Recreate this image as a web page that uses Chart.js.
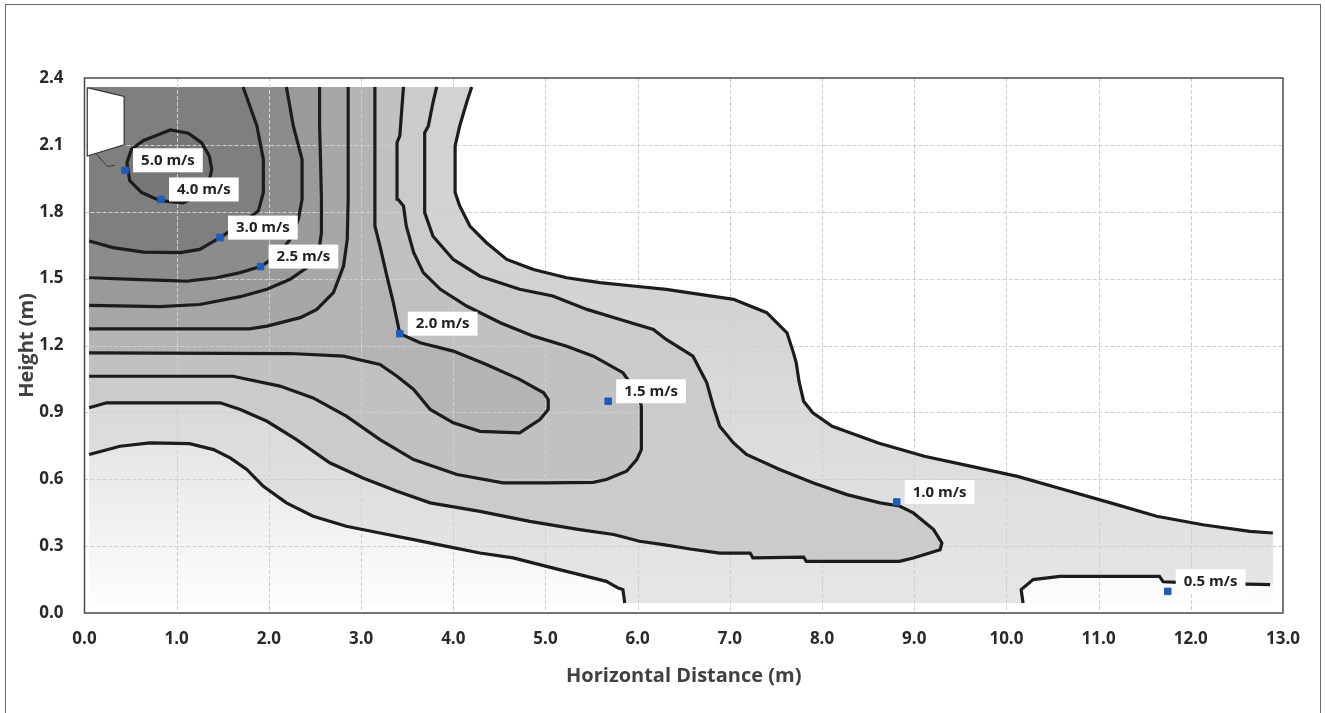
<!DOCTYPE html>
<html>
<head>
<meta charset="utf-8">
<title>Velocity contours</title>
<script src="https://cdn.jsdelivr.net/npm/chart.js@4.4.0/dist/chart.umd.min.js"></script>
<style>
  html, body { margin: 0; padding: 0; background: #fff; }
  canvas { display: block; }
</style>
</head>
<body>
<canvas id="chart" width="1325" height="713"></canvas>
<script>
// ticks
const xTicks = [0, 1, 2, 3, 4, 5, 6, 7, 8, 9, 10, 11, 12, 13];
const yTicks = [0, 0.3, 0.6, 0.9, 1.2, 1.5, 1.8, 2.1, 2.4];

// labelled probe points
const probeText = ['5.0 m/s', '4.0 m/s', '3.0 m/s', '2.5 m/s', '2.0 m/s', '1.5 m/s', '1.0 m/s', '0.5 m/s'];
const probeX = [0.44, 0.83, 1.47, 1.91, 3.42, 5.68, 8.81, 11.75];
const probeY = [1.986, 1.855, 1.684, 1.554, 1.253, 0.95, 0.498, 0.097];

// contour lines, [x (m), height (m)]
const cCircle = [[0.765,2.14],[0.93,2.167],[1.126,2.152],[1.27,2.11],[1.354,2.05],[1.38,1.99],[1.343,1.92],
  [1.217,1.87],[1.07,1.84],[0.82,1.85],[0.62,1.886],[0.49,1.94],[0.46,2.02],[0.51,2.08],[0.64,2.12],[0.765,2.14]];
const cA = [[0.05,1.669],[0.31,1.639],[0.64,1.619],[1.04,1.617],[1.25,1.631],[1.47,1.684],[1.69,1.744],
  [1.885,1.803],[1.94,1.886],[1.94,2.035],[1.87,2.185],[1.78,2.29],[1.72,2.36]];
const cB = [[0.05,1.504],[0.53,1.497],[1.11,1.489],[1.43,1.504],[1.69,1.527],[1.91,1.554],[2.085,1.601],
  [2.23,1.676],[2.32,1.766],[2.36,1.856],[2.36,2.035],[2.265,2.185],[2.19,2.36]];
const cC = [[0.05,1.38],[0.82,1.374],[1.25,1.384],[1.69,1.419],[1.98,1.452],[2.23,1.497],[2.41,1.549],
  [2.54,1.617],[2.57,1.706],[2.57,1.856],[2.56,2.035],[2.55,2.185],[2.55,2.36]];
const cD = [[0.05,1.275],[1.79,1.275],[1.98,1.287],[2.34,1.325],[2.52,1.362],[2.70,1.437],[2.81,1.556],
  [2.85,1.676],[2.86,1.856],[2.86,2.36]];
const cE = [[0.05,1.167],[2.23,1.164],[2.81,1.152],[3.205,1.115],[3.39,1.062],[3.57,1.003],[3.75,0.913],
  [4.0,0.853],[4.29,0.815],[4.72,0.808],[4.94,0.868],[5.03,0.913],[5.03,0.958],[4.98,0.988],[4.72,1.048],
  [4.36,1.115],[4.0,1.175],[3.64,1.212],[3.42,1.253],[3.35,1.392],[3.28,1.511],[3.205,1.646],[3.15,1.736],
  [3.15,2.035],[3.15,2.36]];
const cF = [[0.05,1.062],[1.61,1.062],[2.12,1.018],[2.48,0.965],[2.84,0.883],[3.205,0.778],[3.57,0.688],
  [4.04,0.621],[4.54,0.584],[5.01,0.584],[5.52,0.586],[5.66,0.599],[5.88,0.636],[5.99,0.688],[6.04,0.733],
  [6.04,0.928],[6.01,0.98],[5.84,1.078],[5.52,1.152],[5.23,1.197],[4.87,1.242],[4.51,1.302],[4.145,1.377],
  [3.86,1.452],[3.675,1.527],[3.57,1.617],[3.49,1.736],[3.46,1.826],[3.40,1.856],[3.39,2.11],[3.42,2.14],[3.46,2.36]];
const cG = [[0.05,0.921],[0.24,0.943],[1.47,0.943],[1.69,0.913],[1.98,0.86],[2.30,0.778],[2.66,0.674],
  [3.02,0.606],[3.39,0.546],[3.75,0.494],[4.29,0.456],[4.83,0.411],[5.37,0.374],[5.74,0.352],[6.02,0.322],
  [6.28,0.307],[6.57,0.287],[6.89,0.269],[7.22,0.269],[7.25,0.247],[7.80,0.251],[7.83,0.232],[8.84,0.232],
  [8.99,0.247],[9.28,0.284],[9.30,0.314],[9.21,0.374],[8.99,0.449],[8.84,0.48],[8.63,0.494],[8.27,0.531],
  [7.90,0.584],[7.54,0.644],[7.18,0.711],[7.04,0.763],[6.89,0.838],[6.82,0.928],[6.75,1.033],[6.60,1.152],
  [6.31,1.227],[6.17,1.272],[5.81,1.317],[5.45,1.362],[5.08,1.422],[4.72,1.452],[4.29,1.511],[4.0,1.586],
  [3.78,1.69],[3.69,1.796],[3.69,2.155],[3.73,2.185],[3.78,2.29],[3.82,2.36]];
const cH = [[4.20,2.36],[4.145,2.29],[4.07,2.185],[4.02,2.095],[4.02,1.886],[4.07,1.826],[4.18,1.736],
  [4.36,1.661],[4.58,1.586],[4.87,1.541],[5.23,1.504],[5.59,1.482],[5.95,1.467],[6.31,1.452],[6.675,1.429],
  [7.04,1.407],[7.40,1.347],[7.62,1.257],[7.69,1.167],[7.72,1.123],[7.75,1.04],[7.80,0.95],[7.90,0.898],
  [8.11,0.838],[8.61,0.763],[9.11,0.703],[9.62,0.658],[10.12,0.613],[10.62,0.554],[11.13,0.494],
  [11.63,0.434],[12.13,0.396],[12.64,0.366],[12.89,0.359]];
const cLowLeft = [[0.05,0.711],[0.385,0.748],[0.71,0.763],[1.14,0.76],[1.40,0.733],[1.58,0.696],[1.76,0.644],
  [1.94,0.568],[2.19,0.494],[2.48,0.434],[2.84,0.389],[3.205,0.359],[3.57,0.329],[3.93,0.299],[4.29,0.269],
  [4.65,0.247],[5.01,0.209],[5.37,0.172],[5.66,0.142],[5.79,0.112],[5.84,0.105],[5.86,0.045]];
const cLowRight = [[10.18,0.045],[10.16,0.105],[10.29,0.15],[10.58,0.164],[11.66,0.164],[11.70,0.14],
  [12.0,0.135],[12.86,0.127]];

// inlet outline
const inlet = [[0.03,2.357],[0.43,2.317],[0.43,2.10],[0.03,2.05],[0.03,2.357]];
const inletTick = [[0.13,2.058],[0.25,2.003],[0.33,2.009]];

const toXY = arr => arr.map(p => ({ x: p[0], y: p[1] }));
const corner = [[0.05, 2.36]];

function band(points, color, order, extra) {
  return Object.assign({
    data: toXY(points),
    fill: 'shape',
    backgroundColor: color,
    borderWidth: 0,
    pointRadius: 0,
    tension: 0,
    order: order
  }, extra || {});
}

function contour(points) {
  return {
    data: toXY(points),
    fill: false,
    borderColor: '#1c1c1c',
    borderWidth: 3.2,
    pointRadius: 0,
    tension: 0,
    order: 10
  };
}

function vGradient(ctx, top, bottom, c1, c2) {
  const chart = ctx.chart;
  if (!chart.chartArea) return c1;
  const y = chart.scales.y;
  const g = chart.ctx.createLinearGradient(0, y.getPixelForValue(top), 0, y.getPixelForValue(bottom));
  g.addColorStop(0, c1);
  g.addColorStop(1, c2);
  return g;
}

const basePoly = [[0.05,0.045],[0.05,2.36]].concat(cH, [[12.89,0.045]]);
const outerPoly = corner.concat(cH, [[12.89,0.127]], cLowRight.slice().reverse(), cLowLeft.slice().reverse());

const datasets = [
  band(basePoly, c => vGradient(c, 0.8, 0.04, '#e4e4e4', '#fdfdfd'), 100),
  band(outerPoly, c => vGradient(c, 1.5, 0.04, '#d2d2d2', '#e6e6e6'), 99),
  band(cG.concat(corner), '#cbcbcb', 98),
  band(cF.concat(corner), '#c1c1c1', 97),
  band(cE.concat(corner), '#b4b4b4', 96),
  band(cD.concat(corner), '#a7a7a7', 95),
  band(cC.concat(corner), '#9a9a9a', 94),
  band(cB.concat(corner), '#8c8c8c', 93),
  band(cA.concat(corner), '#7f7f7f', 92),
  band(cCircle, '#777777', 91, { gridAfter: true }),
  contour(cCircle), contour(cA), contour(cB), contour(cC), contour(cD), contour(cE),
  contour(cF), contour(cG), contour(cH), contour(cLowLeft), contour(cLowRight),
  {
    data: toXY(inlet), fill: 'shape', backgroundColor: '#ffffff', borderColor: '#333333',
    borderWidth: 1.2, pointRadius: 0, tension: 0, order: 5
  },
  {
    data: toXY(inletTick), fill: false, borderColor: '#333333', borderWidth: 1,
    pointRadius: 0, tension: 0, order: 5
  },
  {
    data: probeX.map((v, i) => ({ x: v, y: probeY[i] })),
    showLine: false, pointStyle: 'rect', pointRadius: 4.6,
    pointBackgroundColor: '#1f5cb8', pointBorderColor: '#1f5cb8', pointBorderWidth: 1, order: 1
  }
];

const overlay = {
  id: 'overlay',
  beforeDraw(chart) {
    const ctx = chart.ctx;
    ctx.save();
    ctx.fillStyle = '#ffffff';
    ctx.fillRect(0, 0, chart.width, chart.height);
    ctx.strokeStyle = '#6a6a6a';
    ctx.lineWidth = 1;
    ctx.strokeRect(5.5, 4.5, 1315, 760);
    ctx.restore();
  },
  afterDatasetDraw(chart, args) {
    if (!chart.data.datasets[args.index].gridAfter) return;
    const { ctx, chartArea: a, scales: { x, y } } = chart;
    ctx.save();
    ctx.strokeStyle = '#cfcfcf';
    ctx.lineWidth = 1;
    ctx.setLineDash([4, 2]);
    xTicks.slice(1, -1).forEach(v => {
      const px = Math.round(x.getPixelForValue(v)) + 0.5;
      ctx.beginPath(); ctx.moveTo(px, a.top); ctx.lineTo(px, a.bottom); ctx.stroke();
    });
    yTicks.slice(1, -1).forEach(v => {
      const py = Math.round(y.getPixelForValue(v)) + 0.5;
      ctx.beginPath(); ctx.moveTo(a.left, py); ctx.lineTo(a.right, py); ctx.stroke();
    });
    ctx.restore();
  },
  afterDraw(chart) {
    const { ctx, chartArea: a, scales: { x, y } } = chart;
    ctx.save();
    ctx.strokeStyle = '#4a4a4a';
    ctx.lineWidth = 1.5;
    ctx.strokeRect(a.left, a.top, a.right - a.left, a.bottom - a.top);
    // probe labels
    ctx.font = 'bold 15px "Open Sans"';
    ctx.textBaseline = 'middle';
    probeText.forEach((t, i) => {
      const px = x.getPixelForValue(probeX[i]);
      const py = y.getPixelForValue(probeY[i]);
      const w = ctx.measureText(t).width + 16;
      const bx = px + 8, by = py - 10;
      ctx.fillStyle = '#ffffff';
      ctx.fillRect(bx, by - 12, w, 24);
      ctx.fillStyle = '#222222';
      ctx.fillText(t, bx + 8, by + 0.5);
    });
    ctx.restore();
  }
};

new Chart(document.getElementById('chart'), {
  type: 'line',
  data: { datasets: datasets },
  options: {
    responsive: false,
    animation: false,
    devicePixelRatio: 1,
    layout: { padding: { left: 15, top: 78, right: 42, bottom: 25 } },
    plugins: { legend: { display: false }, tooltip: { enabled: false } },
    scales: {
      x: {
        type: 'linear', min: 0, max: 13,
        afterBuildTicks: s => { s.ticks = xTicks.map(v => ({ value: v })); },
        afterFit: s => { s.height = 75; },
        grid: { display: false },
        border: { display: false },
        ticks: {
          padding: 8, maxRotation: 0, color: '#2a2a2a',
          font: { family: '"Open Sans"', size: 17, weight: 'bold' },
          callback: v => Number(v).toFixed(1)
        },
        title: {
          display: true, text: 'Horizontal Distance (m)', color: '#404040', padding: 0,
          font: { family: '"Open Sans"', size: 20, weight: 'bold' }
        }
      },
      y: {
        type: 'linear', min: 0, max: 2.4,
        afterBuildTicks: s => { s.ticks = yTicks.map(v => ({ value: v })); },
        afterFit: s => { s.width = 69.5; },
        grid: { display: false },
        border: { display: false },
        ticks: {
          padding: 13, color: '#2a2a2a',
          font: { family: '"Open Sans"', size: 17, weight: 'bold' },
          callback: v => Number(v).toFixed(1)
        },
        title: {
          display: true, text: 'Height (m)', color: '#404040', padding: 0,
          font: { family: '"Open Sans"', size: 20, weight: 'bold' }
        }
      }
    }
  },
  plugins: [overlay]
});
</script>
</body>
</html>
